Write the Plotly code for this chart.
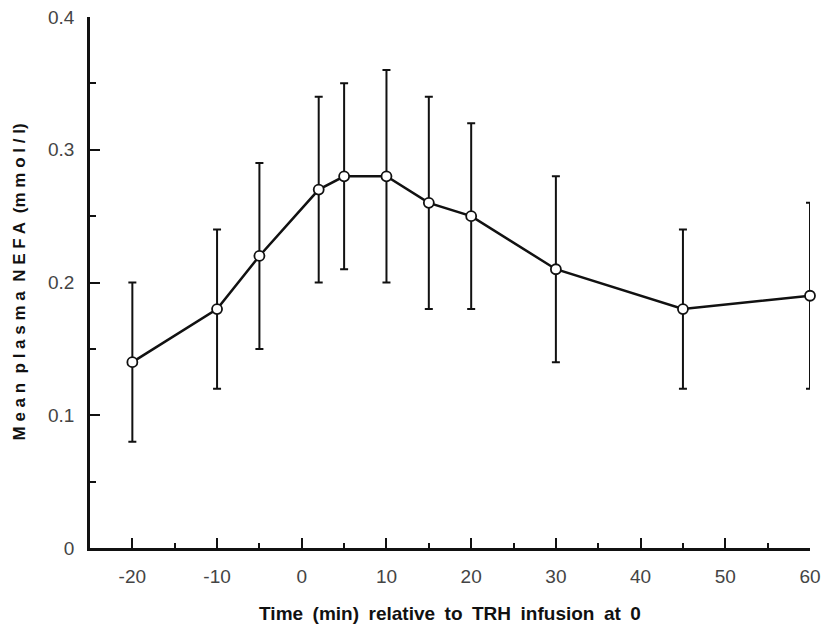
import plotly.graph_objects as go

time_min = [-20, -10, -5, 2, 5, 10, 15, 20, 30, 45, 60]
nefa_mean = [0.14, 0.18, 0.22, 0.27, 0.28, 0.28, 0.26, 0.25, 0.21, 0.18, 0.19]
nefa_err = [0.06, 0.06, 0.07, 0.07, 0.07, 0.08, 0.08, 0.07, 0.07, 0.06, 0.07]
x_ticks = [-20, -10, 0, 10, 20, 30, 40, 50, 60]
y_ticks = [0, 0.1, 0.2, 0.3, 0.4]
y_tick_text = ["0", "0.1", "0.2", "0.3", "0.4"]

W, H = 824, 634
ML, MR, MT, MB = 90, 14, 17, 86

fig = go.Figure()
fig.add_trace(go.Scatter(
    x=time_min, y=nefa_mean,
    mode="lines+markers",
    line=dict(color="#111", width=2.5),
    marker=dict(symbol="circle", size=10, color="white",
                line=dict(color="#111", width=1.8)),
    error_y=dict(type="data", array=nefa_err, visible=True,
                 color="#111", thickness=2, width=4),
    cliponaxis=False,
    showlegend=False,
))

plot_w = W - ML - MR
fig.update_layout(
    width=W, height=H,
    margin=dict(l=ML, r=MR, t=MT, b=MB),
    paper_bgcolor="white", plot_bgcolor="white",
    font=dict(family="Liberation Sans, Arial, sans-serif", color="#444", size=19),
    annotations=[dict(
        text="<b>M e a n  p l a s m a  N E F A  (m m o l / l)</b>",
        textangle=-90, xref="paper", yref="paper",
        x=-(ML - 19) / plot_w, y=0.5, xanchor="center", yanchor="middle",
        showarrow=False, font=dict(size=17, color="#111"),
    )],
)
fig.update_xaxes(
    range=[-25, 60], tickvals=x_ticks, ticktext=[str(v) for v in x_ticks],
    ticks="inside", ticklen=10, tickwidth=2, tickcolor="#111",
    minor=dict(dtick=5, tick0=0, ticks="inside", ticklen=5, tickwidth=2, tickcolor="#111"),
    showline=True, linecolor="#111", linewidth=2.5, showgrid=False, zeroline=False,
    ticklabelstandoff=9, automargin=False,
    title=dict(text="<b>Time\u2002(min)\u2002relative\u2002to\u2002TRH\u2002infusion\u2002at\u20020</b>",
               font=dict(size=19, color="#111"), standoff=22),
)
fig.update_yaxes(
    range=[0, 0.4], tickvals=y_ticks, ticktext=y_tick_text,
    ticks="inside", ticklen=10, tickwidth=2, tickcolor="#111",
    minor=dict(dtick=0.05, tick0=0, ticks="inside", ticklen=6, tickwidth=2, tickcolor="#111"),
    showline=True, linecolor="#111", linewidth=2.5, showgrid=False, zeroline=False,
    ticklabelstandoff=9, automargin=False,
)

fig.write_html("out.html")
